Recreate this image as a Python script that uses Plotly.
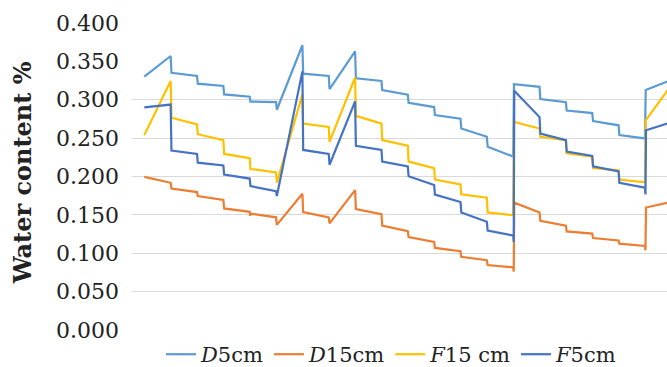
import plotly.graph_objects as go

# x in days (each step = one day), y = water content
d5_x = [0, 1, 1.03, 2, 2.03, 3, 3.03, 4, 4.03, 5, 5.03, 6, 6.03, 7, 7.03, 8, 8.03,
        9, 9.03, 10, 10.03, 11, 11.03, 12, 12.03, 13, 13.03, 14, 14.03,
        15, 15.03, 16, 16.03, 17, 17.03, 18, 18.03, 19, 19.03, 20]
d5_y = [0.330, 0.357, 0.335, 0.331, 0.321, 0.318, 0.307, 0.304, 0.2976, 0.297, 0.287,
        0.371, 0.334, 0.331, 0.314, 0.363, 0.328,
        0.3245, 0.3126, 0.3065, 0.296, 0.2905, 0.280, 0.2753, 0.2625, 0.2517, 0.2388,
        0.226, 0.3203, 0.3168, 0.301, 0.2967, 0.286, 0.2826, 0.2722, 0.2667, 0.2539,
        0.2496, 0.3126, 0.3258]

d15_x = [0, 1, 1.03, 2, 2.03, 3, 3.03, 4, 4.02, 4.04, 5, 5.03, 6, 6.03, 7, 7.03, 8, 8.03,
         9, 9.03, 10, 10.03, 11, 11.03, 12, 12.03, 13, 13.03, 14, 14.02, 14.04,
         15, 15.03, 16, 16.03, 17, 17.03, 18, 18.03, 19, 19.02, 19.04, 20]
d15_y = [0.1995, 0.1918, 0.1844, 0.1797, 0.1746, 0.1694, 0.1584, 0.154, 0.1488, 0.1515,
         0.1468, 0.137, 0.1775, 0.1535, 0.1468, 0.139, 0.1823, 0.1575,
         0.1509, 0.136, 0.1289, 0.121, 0.1147, 0.1069, 0.1026, 0.0954, 0.091, 0.0846,
         0.0816, 0.0761, 0.166, 0.1532, 0.1424, 0.136, 0.1285, 0.1256, 0.1198, 0.1167,
         0.1125, 0.1095, 0.1039, 0.1596, 0.167]

f15_x = [0, 1, 1.03, 2, 2.03, 3, 3.03, 4, 4.03, 5, 5.03, 6, 6.03, 7, 7.03, 8, 8.03,
         9, 9.03, 10, 10.03, 11, 11.03, 12, 12.03, 13, 13.03, 14, 14.03,
         15, 15.03, 16, 16.03, 17, 17.03, 18, 18.03, 19, 19.03, 20]
f15_y = [0.2539, 0.3245, 0.2766, 0.268, 0.2551, 0.2474, 0.2294, 0.2239, 0.2098, 0.2054,
         0.1918, 0.307, 0.2689, 0.2645, 0.2452, 0.329, 0.279,
         0.2689, 0.2474, 0.2401, 0.2195, 0.211, 0.196, 0.1896, 0.1767, 0.1725, 0.1532,
         0.1497, 0.271, 0.2625, 0.2517, 0.2474, 0.2303, 0.226, 0.211, 0.208, 0.196,
         0.1925, 0.273, 0.319]

f5_x = [0, 1, 1.03, 2, 2.03, 3, 3.03, 4, 4.03, 5, 5.03, 6, 6.03, 7, 7.03, 8, 8.03,
        9, 9.03, 10, 10.03, 11, 11.03, 12, 12.03, 13, 13.03, 14, 14.02, 14.04,
        15, 15.03, 16, 16.03, 17, 17.03, 18, 18.03, 19, 19.02, 19.04, 20]
f5_y = [0.290, 0.2937, 0.2337, 0.2294, 0.218, 0.2144, 0.2024, 0.1973, 0.1874, 0.181,
        0.1746, 0.337, 0.2346, 0.2294, 0.2153, 0.298, 0.240,
        0.2346, 0.2195, 0.2131, 0.2003, 0.189, 0.1765, 0.1668, 0.1532, 0.1411, 0.1296,
        0.1231, 0.1147, 0.3117, 0.2774, 0.256, 0.2474, 0.2324, 0.2269, 0.2131, 0.2067,
        0.1918, 0.1853, 0.1767, 0.2603, 0.2705]

series_names = ["<i>D</i>5cm", "<i>D</i>15cm", "<i>F</i>15 cm", "<i>F</i>5cm"]
series_colors = ["#5B9BD5", "#ED7D31", "#FFC000", "#4472C4"]
# first two series on the gridline axis, last two on the label axis (both identical ranges)
series_axes = ["y", "y", "y2", "y2"]

y_ticks = [0.0, 0.05, 0.10, 0.15, 0.20, 0.25, 0.30, 0.35, 0.40]
grid_ticks = [0.0, 0.05, 0.10, 0.15, 0.20, 0.25, 0.30]

SERIF = "DejaVu Serif"

fig = go.Figure()
for name, color, ax, xs, ys in zip(series_names, series_colors, series_axes,
                                   [d5_x, d15_x, f15_x, f5_x],
                                   [d5_y, d15_y, f15_y, f5_y]):
    fig.add_trace(go.Scatter(x=xs, y=ys, mode="lines", name=name, yaxis=ax,
                             line=dict(color=color, width=2.2)))

fig.update_layout(
    width=667, height=367,
    margin=dict(l=132, r=0, t=23, b=37, autoexpand=False),
    paper_bgcolor="white", plot_bgcolor="white",
    showlegend=True,
    legend=dict(orientation="h", x=0.485, xanchor="center", y=-0.08, yanchor="middle",
                font=dict(family=SERIF, size=21, color="#222222"),
                itemwidth=30, tracegroupgap=0, bgcolor="rgba(0,0,0,0)"),
    xaxis=dict(range=[-0.467, 19.837], showticklabels=False, showgrid=False,
               zeroline=False, showline=False, ticks=""),
    yaxis=dict(range=[0, 0.4], tickmode="array", tickvals=grid_ticks,
               showticklabels=False, showgrid=True, gridcolor="#D9D9D9", gridwidth=1,
               zeroline=False, showline=False, ticks=""),
    yaxis2=dict(range=[0, 0.4], overlaying="y", side="left", tickmode="array",
                tickvals=y_ticks, tickformat=".3f", showgrid=False, zeroline=False,
                showline=False, ticks="", ticklabelstandoff=12,
                tickfont=dict(family=SERIF, size=22, color="#222222")),
    annotations=[dict(text="<b>Water content %</b>", textangle=-90,
                      xref="paper", yref="paper", x=-0.204, y=0.513,
                      xanchor="center", yanchor="middle", showarrow=False,
                      font=dict(family=SERIF, size=24, color="#222222"))],
)

fig.write_html("out.html")
